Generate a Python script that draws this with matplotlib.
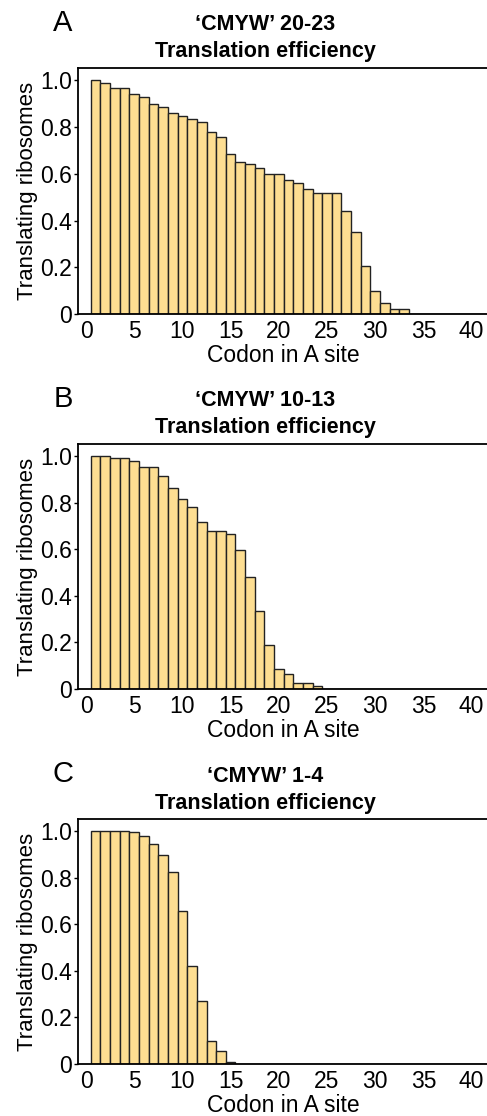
import numpy as np
import matplotlib.pyplot as plt

plt.rcParams['font.family'] = ['Liberation Sans', 'DejaVu Sans']

# codon positions 1..41
codons = np.arange(1, 42)

# panel A: 'CMYW' 20-23
ribosomes_a = [1.0, 0.989, 0.966, 0.966, 0.94, 0.927, 0.901, 0.887, 0.86, 0.847,
               0.834, 0.82, 0.781, 0.756, 0.687, 0.649, 0.64, 0.627, 0.601, 0.601,
               0.573, 0.56, 0.533, 0.52, 0.52, 0.52, 0.441, 0.349, 0.207, 0.1,
               0.049, 0.021, 0.021, 0, 0, 0, 0, 0, 0, 0, 0]

# panel B: 'CMYW' 10-13
ribosomes_b = [1.0, 1.0, 0.991, 0.991, 0.98, 0.953, 0.953, 0.917, 0.864, 0.817,
               0.781, 0.719, 0.679, 0.679, 0.666, 0.596, 0.481, 0.334, 0.189, 0.086,
               0.064, 0.026, 0.026, 0.013, 0, 0, 0, 0, 0, 0,
               0, 0, 0, 0, 0, 0, 0, 0, 0, 0, 0]

# panel C: 'CMYW' 1-4
ribosomes_c = [1.0, 1.0, 1.0, 1.0, 0.996, 0.979, 0.947, 0.9, 0.826, 0.659,
               0.423, 0.269, 0.097, 0.054, 0.01, 0, 0, 0, 0, 0,
               0, 0, 0, 0, 0, 0, 0, 0, 0, 0,
               0, 0, 0, 0, 0, 0, 0, 0, 0, 0, 0]

panel_letters = ['A', 'B', 'C']
panel_titles = ["\u2018CMYW\u2019 20-23", "\u2018CMYW\u2019 10-13", "\u2018CMYW\u2019 1-4"]
panel_data = [ribosomes_a, ribosomes_b, ribosomes_c]

W, H = 487, 1116
fig = plt.figure(figsize=(W / 100, H / 100), dpi=100)

# axes boxes in pixels: (left, top, bottom)
boxes = [(78, 68, 314), (78, 444, 689), (78, 819, 1064)]

for i in range(3):
    left, top, bottom = boxes[i]
    ax = fig.add_axes([left / W, 1 - bottom / H, (W + 2 - left) / W, (bottom - top) / H])
    ax.bar(codons, panel_data[i], width=1.0, color='#FDDE92',
           edgecolor='#222222', linewidth=1.0)
    ax.set_xlim(-0.83, 41.8)
    ax.set_ylim(0, 1.053)
    ax.set_xticks([0, 5, 10, 15, 20, 25, 30, 35, 40])
    ax.set_yticks([0, 0.2, 0.4, 0.6, 0.8, 1.0])
    ax.set_yticklabels(['0', '0.2', '0.4', '0.6', '0.8', '1.0'])
    ax.tick_params(labelsize=16.5, length=3, width=1, pad=1.5)
    ax.tick_params(axis='x', length=0, pad=4)
    ax.spines['right'].set_visible(False)
    for s in ['left', 'bottom', 'top']:
        ax.spines[s].set_linewidth(1.3)
    ax.set_xlabel('Codon in A site', fontsize=16.5, labelpad=1)
    ax.set_ylabel('Translating ribosomes', fontsize=16, labelpad=1)

    fig.text(63 / W, 1 - (top - 45) / H, panel_letters[i], fontsize=21,
             ha='center', va='center')
    fig.text(265 / W, 1 - (top - 43) / H, panel_titles[i], fontsize=15.5,
             fontweight='bold', ha='center', va='center')
    fig.text(265 / W, 1 - (top - 16) / H, 'Translation efficiency', fontsize=15.5,
             fontweight='bold', ha='center', va='center')

fig.savefig('out.png', dpi=100)
